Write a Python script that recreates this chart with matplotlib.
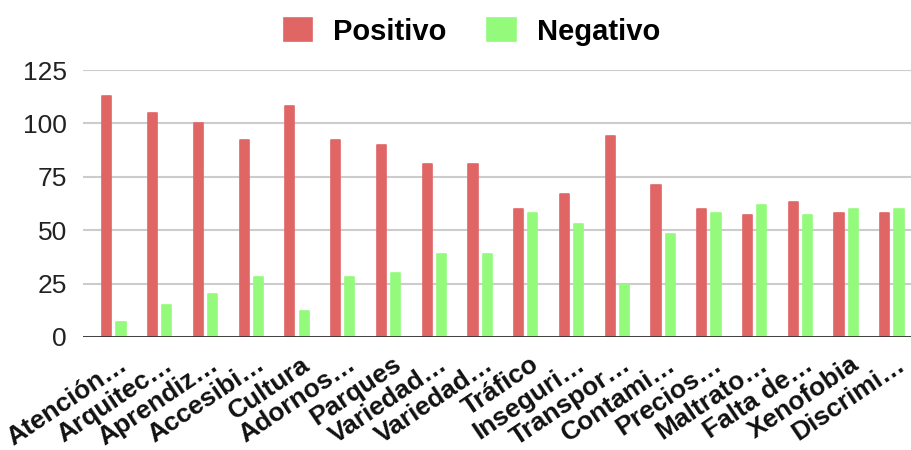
import numpy as np
import matplotlib.pyplot as plt
import matplotlib.transforms as mtransforms

categories = ["Atención…", "Arquitec…", "Aprendiz…", "Accesibi…", "Cultura",
              "Adornos…", "Parques", "Variedad…", "Variedad…", "Tráfico",
              "Inseguri…", "Transpor…", "Contami…", "Precios…", "Maltrato…",
              "Falta de…", "Xenofobia", "Discrimi…"]
positivo = [113, 105, 100, 92, 108, 92, 90, 81, 81, 60, 67, 94, 71, 60, 57, 63, 58, 58]
negativo = [7, 15, 20, 28, 12, 28, 30, 39, 39, 58, 53, 25, 48, 58, 62, 57, 60, 60]
yticks = [0, 25, 50, 75, 100, 125]

red = "#e06666"
green = "#93fa7b"

plt.rcParams["font.family"] = ["Liberation Sans", "DejaVu Sans"]

fig = plt.figure(figsize=(9.12, 4.5), dpi=100)
ax = fig.add_axes([83 / 912, 1 - 337 / 450, (912 - 83) / 912, (337 - 70) / 450])

x = np.arange(len(categories))
w = 0.2
off = 0.155
ax.bar(x - off, positivo, w, color=red, edgecolor=red, linewidth=1.2,
       joinstyle="round", label="Positivo", zorder=3)
ax.bar(x + off, negativo, w, color=green, edgecolor=green, linewidth=1.2,
       joinstyle="round", label="Negativo", zorder=3)

ax.set_xlim(-0.677, 17.44)
ax.set_ylim(0, 125)
ax.set_yticks(yticks)
ax.yaxis.grid(True, color="#cccccc", linewidth=1.5, zorder=0)
ax.axhline(0, color="#333333", linewidth=2, zorder=4)
for s in ax.spines.values():
    s.set_visible(False)
ax.tick_params(axis="y", length=0, pad=11.5, labelsize=19, labelcolor="#222222")
ax.tick_params(axis="x", length=0, pad=11)
ax.set_xticks(x)
ax.set_xticklabels(categories, rotation=34, ha="right", va="top",
                   rotation_mode="anchor", fontsize=19, fontweight="bold",
                   color="#111111")
# nudge labels a few pixels right, like the original
shift = mtransforms.ScaledTranslation(4 / 100, 0, fig.dpi_scale_trans)
for lab in ax.get_xticklabels():
    lab.set_transform(lab.get_transform() + shift)

fig.legend(loc="center", bbox_to_anchor=(472 / 912, 0.930), ncol=2,
           frameon=False, prop={"weight": "bold", "size": 21},
           handlelength=0.97, handleheight=0.86, columnspacing=1.4,
           handletextpad=0.72)

plt.savefig("out.png")
